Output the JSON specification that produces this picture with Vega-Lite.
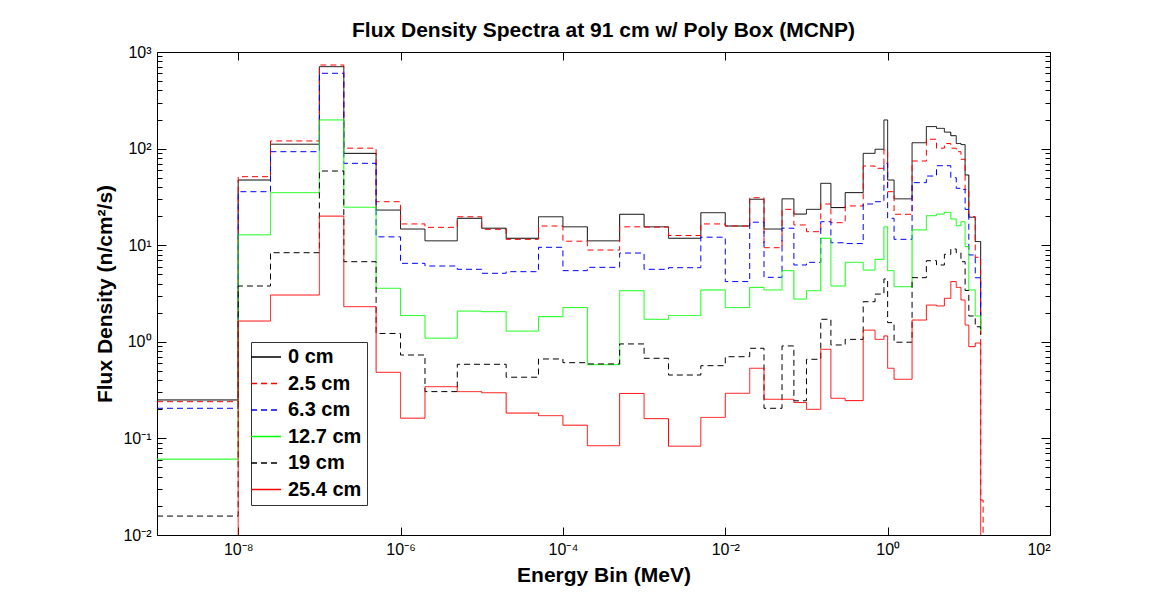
{
  "$schema": "https://vega.github.io/schema/vega-lite/v6.json",
  "width": 893,
  "height": 483,
  "autosize": "none",
  "padding": {"left": 157, "top": 52, "right": 108, "bottom": 64},
  "background": "white",
  "config": {
    "view": {"stroke": "#000", "strokeWidth": 1},
    "font": "Liberation Sans",
    "axis": {"domain": false, "grid": false, "labelFont": "Liberation Sans", "labelFontSize": 16, "labelColor": "#000", "tickColor": "#000", "titleFont": "Liberation Sans", "titleFontSize": 21, "titleFontWeight": "bold", "titleColor": "#000"}
  },
  "title": {"text": "Flux Density Spectra at 91 cm w/ Poly Box (MCNP)", "fontSize": 21, "fontWeight": "bold", "font": "Liberation Sans", "color": "#000", "anchor": "middle", "offset": 3},
  "data": {"values": [
    {"s":"0 cm","e":1e-9,"f":0.25},{"s":"0 cm","e":1e-8,"f":47.3},{"s":"0 cm","e":2.5e-8,"f":111},{"s":"0 cm","e":1e-7,"f":705},{"s":"0 cm","e":2e-7,"f":89.3},{"s":"0 cm","e":5e-7,"f":23.1},{"s":"0 cm","e":1e-6,"f":14.7},{"s":"0 cm","e":2e-6,"f":11.1},{"s":"0 cm","e":5e-6,"f":19},{"s":"0 cm","e":1e-5,"f":15},{"s":"0 cm","e":2e-5,"f":11.8},{"s":"0 cm","e":5e-5,"f":19.7},{"s":"0 cm","e":1e-4,"f":15.5},{"s":"0 cm","e":2e-4,"f":11.1},{"s":"0 cm","e":5e-4,"f":20.9},{"s":"0 cm","e":1e-3,"f":15.5},{"s":"0 cm","e":2e-3,"f":11.8},{"s":"0 cm","e":5e-3,"f":21.7},{"s":"0 cm","e":0.01,"f":15.8},{"s":"0 cm","e":0.02,"f":29.9},{"s":"0 cm","e":0.03,"f":14.7},{"s":"0 cm","e":0.05,"f":30.2},{"s":"0 cm","e":0.07,"f":21},{"s":"0 cm","e":0.1,"f":23.5},{"s":"0 cm","e":0.15,"f":43.7},{"s":"0 cm","e":0.2,"f":24.5},{"s":"0 cm","e":0.3,"f":35},{"s":"0 cm","e":0.5,"f":89.3},{"s":"0 cm","e":0.7,"f":98.4},{"s":"0 cm","e":0.9,"f":198},{"s":"0 cm","e":1,"f":47.3},{"s":"0 cm","e":1.2,"f":30.2},{"s":"0 cm","e":2,"f":115},{"s":"0 cm","e":3,"f":169},{"s":"0 cm","e":4,"f":162},{"s":"0 cm","e":5,"f":148},{"s":"0 cm","e":6,"f":136},{"s":"0 cm","e":7,"f":113},{"s":"0 cm","e":8,"f":110},{"s":"0 cm","e":9,"f":53.3},{"s":"0 cm","e":10,"f":19.5},{"s":"0 cm","e":12,"f":10.9},{"s":"0 cm","e":14,"f":1.2},
    {"s":"2.5 cm","e":1e-9,"f":0.24},{"s":"2.5 cm","e":1e-8,"f":51.2},{"s":"2.5 cm","e":2.5e-8,"f":120},{"s":"2.5 cm","e":1e-7,"f":733},{"s":"2.5 cm","e":2e-7,"f":101},{"s":"2.5 cm","e":5e-7,"f":28.2},{"s":"2.5 cm","e":1e-6,"f":16.6},{"s":"2.5 cm","e":2e-6,"f":15.3},{"s":"2.5 cm","e":5e-6,"f":19.7},{"s":"2.5 cm","e":1e-5,"f":14.6},{"s":"2.5 cm","e":2e-5,"f":11.5},{"s":"2.5 cm","e":5e-5,"f":15.8},{"s":"2.5 cm","e":1e-4,"f":11.0},{"s":"2.5 cm","e":2e-4,"f":8.91},{"s":"2.5 cm","e":5e-4,"f":15.5},{"s":"2.5 cm","e":1e-3,"f":15.4},{"s":"2.5 cm","e":2e-3,"f":12.6},{"s":"2.5 cm","e":5e-3,"f":16.6},{"s":"2.5 cm","e":0.01,"f":15.8},{"s":"2.5 cm","e":0.02,"f":31},{"s":"2.5 cm","e":0.03,"f":9.42},{"s":"2.5 cm","e":0.05,"f":23.5},{"s":"2.5 cm","e":0.07,"f":16.2},{"s":"2.5 cm","e":0.1,"f":13.8},{"s":"2.5 cm","e":0.15,"f":26.7},{"s":"2.5 cm","e":0.2,"f":17.1},{"s":"2.5 cm","e":0.3,"f":25.5},{"s":"2.5 cm","e":0.5,"f":66},{"s":"2.5 cm","e":0.7,"f":62.5},{"s":"2.5 cm","e":0.9,"f":96.8},{"s":"2.5 cm","e":1,"f":35.8},{"s":"2.5 cm","e":1.2,"f":20.9},{"s":"2.5 cm","e":2,"f":74.4},{"s":"2.5 cm","e":3,"f":125},{"s":"2.5 cm","e":4,"f":101},{"s":"2.5 cm","e":5,"f":113},{"s":"2.5 cm","e":6,"f":101},{"s":"2.5 cm","e":7,"f":92.9},{"s":"2.5 cm","e":8,"f":77.5},{"s":"2.5 cm","e":9,"f":37.8},{"s":"2.5 cm","e":10,"f":19.8},{"s":"2.5 cm","e":12,"f":7.5},{"s":"2.5 cm","e":14,"f":0.023},{"s":"2.5 cm","e":15,"f":0.0001},
    {"s":"6.3 cm","e":1e-9,"f":0.205},{"s":"6.3 cm","e":1e-8,"f":35.8},{"s":"6.3 cm","e":2.5e-8,"f":92.9},{"s":"6.3 cm","e":1e-7,"f":602},{"s":"6.3 cm","e":2e-7,"f":70.4},{"s":"6.3 cm","e":5e-7,"f":12.2},{"s":"6.3 cm","e":1e-6,"f":6.49},{"s":"6.3 cm","e":2e-6,"f":6.09},{"s":"6.3 cm","e":5e-6,"f":5.63},{"s":"6.3 cm","e":1e-5,"f":5.12},{"s":"6.3 cm","e":2e-5,"f":5.32},{"s":"6.3 cm","e":5e-5,"f":9.51},{"s":"6.3 cm","e":1e-4,"f":5.45},{"s":"6.3 cm","e":2e-4,"f":5.9},{"s":"6.3 cm","e":5e-4,"f":8.3},{"s":"6.3 cm","e":1e-3,"f":5.63},{"s":"6.3 cm","e":2e-3,"f":5.85},{"s":"6.3 cm","e":5e-3,"f":12.1},{"s":"6.3 cm","e":0.01,"f":4.2},{"s":"6.3 cm","e":0.02,"f":17.3},{"s":"6.3 cm","e":0.03,"f":4.65},{"s":"6.3 cm","e":0.05,"f":15},{"s":"6.3 cm","e":0.07,"f":6.24},{"s":"6.3 cm","e":0.1,"f":6.65},{"s":"6.3 cm","e":0.15,"f":17.5},{"s":"6.3 cm","e":0.2,"f":10.6},{"s":"6.3 cm","e":0.3,"f":10.4},{"s":"6.3 cm","e":0.5,"f":26.7},{"s":"6.3 cm","e":0.7,"f":28.2},{"s":"6.3 cm","e":0.9,"f":70.4},{"s":"6.3 cm","e":1,"f":19},{"s":"6.3 cm","e":1.2,"f":11.5},{"s":"6.3 cm","e":2,"f":44.4},{"s":"6.3 cm","e":3,"f":52},{"s":"6.3 cm","e":4,"f":66.5},{"s":"6.3 cm","e":5,"f":66.5},{"s":"6.3 cm","e":6,"f":50},{"s":"6.3 cm","e":7,"f":38.8},{"s":"6.3 cm","e":8,"f":37.8},{"s":"6.3 cm","e":9,"f":23.5},{"s":"6.3 cm","e":10,"f":7.92},{"s":"6.3 cm","e":12,"f":4.6},{"s":"6.3 cm","e":14,"f":1.85},
    {"s":"12.7 cm","e":1e-9,"f":0.061},{"s":"12.7 cm","e":1e-8,"f":12.8},{"s":"12.7 cm","e":2.5e-8,"f":35},{"s":"12.7 cm","e":1e-7,"f":198},{"s":"12.7 cm","e":2e-7,"f":24.7},{"s":"12.7 cm","e":5e-7,"f":3.58},{"s":"12.7 cm","e":1e-6,"f":1.87},{"s":"12.7 cm","e":2e-6,"f":1.09},{"s":"12.7 cm","e":5e-6,"f":2.08},{"s":"12.7 cm","e":1e-5,"f":2.05},{"s":"12.7 cm","e":2e-5,"f":1.29},{"s":"12.7 cm","e":5e-5,"f":1.82},{"s":"12.7 cm","e":1e-4,"f":2.26},{"s":"12.7 cm","e":2e-4,"f":0.58},{"s":"12.7 cm","e":5e-4,"f":3.38},{"s":"12.7 cm","e":1e-3,"f":1.71},{"s":"12.7 cm","e":2e-3,"f":1.87},{"s":"12.7 cm","e":5e-3,"f":3.44},{"s":"12.7 cm","e":0.01,"f":2.26},{"s":"12.7 cm","e":0.02,"f":3.66},{"s":"12.7 cm","e":0.03,"f":3.44},{"s":"12.7 cm","e":0.05,"f":5.45},{"s":"12.7 cm","e":0.07,"f":2.77},{"s":"12.7 cm","e":0.1,"f":3.38},{"s":"12.7 cm","e":0.15,"f":11.8},{"s":"12.7 cm","e":0.2,"f":3.78},{"s":"12.7 cm","e":0.3,"f":6.65},{"s":"12.7 cm","e":0.5,"f":5.53},{"s":"12.7 cm","e":0.7,"f":7.14},{"s":"12.7 cm","e":0.9,"f":15.5},{"s":"12.7 cm","e":1,"f":5.45},{"s":"12.7 cm","e":1.2,"f":3.72},{"s":"12.7 cm","e":2,"f":14.4},{"s":"12.7 cm","e":3,"f":20.2},{"s":"12.7 cm","e":4,"f":21},{"s":"12.7 cm","e":5,"f":21.9},{"s":"12.7 cm","e":6,"f":18.7},{"s":"12.7 cm","e":7,"f":15.9},{"s":"12.7 cm","e":8,"f":17.5},{"s":"12.7 cm","e":9,"f":9.66},{"s":"12.7 cm","e":10,"f":3.44},{"s":"12.7 cm","e":12,"f":1.85},{"s":"12.7 cm","e":14,"f":1.3},
    {"s":"19 cm","e":1e-9,"f":0.0157},{"s":"19 cm","e":1e-8,"f":3.78},{"s":"19 cm","e":2.5e-8,"f":8.36},{"s":"19 cm","e":1e-7,"f":58.6},{"s":"19 cm","e":2e-7,"f":6.75},{"s":"19 cm","e":5e-7,"f":1.22},{"s":"19 cm","e":1e-6,"f":0.73},{"s":"19 cm","e":2e-6,"f":0.305},{"s":"19 cm","e":5e-6,"f":0.585},{"s":"19 cm","e":1e-5,"f":0.585},{"s":"19 cm","e":2e-5,"f":0.43},{"s":"19 cm","e":5e-5,"f":0.664},{"s":"19 cm","e":1e-4,"f":0.608},{"s":"19 cm","e":2e-4,"f":0.59},{"s":"19 cm","e":5e-4,"f":0.95},{"s":"19 cm","e":1e-3,"f":0.675},{"s":"19 cm","e":2e-3,"f":0.453},{"s":"19 cm","e":5e-3,"f":0.566},{"s":"19 cm","e":0.01,"f":0.701},{"s":"19 cm","e":0.02,"f":0.857},{"s":"19 cm","e":0.03,"f":0.205},{"s":"19 cm","e":0.05,"f":0.906},{"s":"19 cm","e":0.07,"f":0.245},{"s":"19 cm","e":0.1,"f":0.659},{"s":"19 cm","e":0.15,"f":1.71},{"s":"19 cm","e":0.2,"f":0.927},{"s":"19 cm","e":0.3,"f":1.06},{"s":"19 cm","e":0.5,"f":2.6},{"s":"19 cm","e":0.7,"f":3.12},{"s":"19 cm","e":0.9,"f":4.47},{"s":"19 cm","e":1,"f":1.58},{"s":"19 cm","e":1.2,"f":0.99},{"s":"19 cm","e":2,"f":4.61},{"s":"19 cm","e":3,"f":6.91},{"s":"19 cm","e":4,"f":6.24},{"s":"19 cm","e":5,"f":8.05},{"s":"19 cm","e":6,"f":9.14},{"s":"19 cm","e":7,"f":8.36},{"s":"19 cm","e":8,"f":6.75},{"s":"19 cm","e":9,"f":3.4},{"s":"19 cm","e":10,"f":1.85},{"s":"19 cm","e":12,"f":1.43},{"s":"19 cm","e":14,"f":1.2},
    {"s":"25.4 cm","e":1e-9,"f":0.0001},{"s":"25.4 cm","e":1e-8,"f":1.64},{"s":"25.4 cm","e":2.5e-8,"f":3.05},{"s":"25.4 cm","e":1e-7,"f":20},{"s":"25.4 cm","e":2e-7,"f":2.31},{"s":"25.4 cm","e":5e-7,"f":0.483},{"s":"25.4 cm","e":1e-6,"f":0.162},{"s":"25.4 cm","e":2e-6,"f":0.343},{"s":"25.4 cm","e":5e-6,"f":0.305},{"s":"25.4 cm","e":1e-5,"f":0.297},{"s":"25.4 cm","e":2e-5,"f":0.183},{"s":"25.4 cm","e":5e-5,"f":0.172},{"s":"25.4 cm","e":1e-4,"f":0.137},{"s":"25.4 cm","e":2e-4,"f":0.084},{"s":"25.4 cm","e":5e-4,"f":0.292},{"s":"25.4 cm","e":1e-3,"f":0.16},{"s":"25.4 cm","e":2e-3,"f":0.083},{"s":"25.4 cm","e":5e-3,"f":0.165},{"s":"25.4 cm","e":0.01,"f":0.293},{"s":"25.4 cm","e":0.02,"f":0.532},{"s":"25.4 cm","e":0.03,"f":0.254},{"s":"25.4 cm","e":0.05,"f":0.254},{"s":"25.4 cm","e":0.07,"f":0.235},{"s":"25.4 cm","e":0.1,"f":0.2},{"s":"25.4 cm","e":0.15,"f":0.836},{"s":"25.4 cm","e":0.2,"f":0.26},{"s":"25.4 cm","e":0.3,"f":0.246},{"s":"25.4 cm","e":0.5,"f":1.32},{"s":"25.4 cm","e":0.7,"f":1.06},{"s":"25.4 cm","e":0.9,"f":1.15},{"s":"25.4 cm","e":1,"f":0.532},{"s":"25.4 cm","e":1.2,"f":0.409},{"s":"25.4 cm","e":2,"f":1.68},{"s":"25.4 cm","e":3,"f":2.4},{"s":"25.4 cm","e":4,"f":2.35},{"s":"25.4 cm","e":5,"f":2.82},{"s":"25.4 cm","e":6,"f":4.2},{"s":"25.4 cm","e":7,"f":3.66},{"s":"25.4 cm","e":8,"f":2.71},{"s":"25.4 cm","e":9,"f":1.49},{"s":"25.4 cm","e":10,"f":0.89},{"s":"25.4 cm","e":12,"f":0.97},{"s":"25.4 cm","e":14,"f":0.0001}
  ]},
  "layer": [
    {
      "mark": {"type": "line", "interpolate": "step-after", "clip": true, "strokeWidth": 1},
      "encoding": {
        "x": {"field": "e", "type": "quantitative", "scale": {"type": "log", "domain": [1e-9, 100], "nice": false},
          "axis": {"orient": "bottom", "values": [1e-8, 1e-6, 1e-4, 1e-2, 1, 100], "tickSize": -8, "labelPadding": 14, "labelBaseline": "top",
            "labelExpr": "'10' + (round(log(datum.value)/LN10) < 0 ? '⁻' : '') + ['⁰','¹','²','³','⁴','⁵','⁶','⁷','⁸','⁹'][abs(round(log(datum.value)/LN10))]",
            "title": "Energy Bin (MeV)", "titlePadding": 7}},
        "y": {"field": "f", "type": "quantitative", "scale": {"type": "log", "domain": [0.01, 1000], "nice": false},
          "axis": {"orient": "left",
            "values": [0.01,0.02,0.03,0.04,0.05,0.06,0.07,0.08,0.09,0.1,0.2,0.3,0.4,0.5,0.6,0.7,0.8,0.9,1,2,3,4,5,6,7,8,9,10,20,30,40,50,60,70,80,90,100,200,300,400,500,600,700,800,900,1000],
            "tickSize": {"condition": {"test": "abs(log(datum.value)/LN10 - round(log(datum.value)/LN10)) < 0.001", "value": -9}, "value": -5},
            "labelPadding": 15,
            "labelExpr": "abs(log(datum.value)/LN10 - round(log(datum.value)/LN10)) < 0.001 ? '10' + (round(log(datum.value)/LN10) < 0 ? '⁻' : '') + ['⁰','¹','²','³','⁴','⁵','⁶','⁷','⁸','⁹'][abs(round(log(datum.value)/LN10))] : ''",
            "title": "Flux Density (n/cm²/s)", "titlePadding": 7}},
        "color": {"field": "s", "type": "nominal",
          "scale": {"domain": ["0 cm", "2.5 cm", "6.3 cm", "12.7 cm", "19 cm", "25.4 cm"], "range": ["#000000", "#ff0000", "#0000ff", "#00ff00", "#000000", "#ff0000"]},
          "legend": {"title": null, "orient": "none", "legendX": 94, "legendY": 290, "symbolType": "M-3,0H3", "symbolSize": 100, "symbolStrokeWidth": 1.5, "labelFont": "Liberation Sans", "labelFontSize": 20, "labelFontWeight": "bold", "labelColor": "#000", "labelOffset": 12, "rowPadding": 6.5, "padding": 5, "strokeColor": "#333", "fillColor": "#fff",
            "encode": {"symbols": {"update": {
              "stroke": {"signal": "datum.value === '2.5 cm' || datum.value === '25.4 cm' ? '#ff0000' : datum.value === '6.3 cm' ? '#0000ff' : datum.value === '12.7 cm' ? '#00ff00' : '#000000'"},
              "strokeDash": {"signal": "datum.value === '2.5 cm' || datum.value === '6.3 cm' || datum.value === '19 cm' ? [6, 4] : [1, 0]"}}}}}},
        "strokeDash": {"field": "s", "type": "nominal",
          "scale": {"domain": ["0 cm", "2.5 cm", "6.3 cm", "12.7 cm", "19 cm", "25.4 cm"], "range": [[1, 0], [6, 4], [6, 4], [1, 0], [6, 4], [1, 0]]},
          "legend": null}
      }
    },
    {
      "mark": {"type": "line", "opacity": 0},
      "encoding": {
        "x": {"field": "e", "type": "quantitative", "scale": {"type": "log", "domain": [1e-9, 100], "nice": false},
          "axis": {"orient": "top", "values": [1e-8, 1e-6, 1e-4, 1e-2, 1, 100], "tickSize": -8, "labels": false, "title": null}},
        "y": {"field": "f", "type": "quantitative", "scale": {"type": "log", "domain": [0.01, 1000], "nice": false},
          "axis": {"orient": "right",
            "values": [0.01,0.02,0.03,0.04,0.05,0.06,0.07,0.08,0.09,0.1,0.2,0.3,0.4,0.5,0.6,0.7,0.8,0.9,1,2,3,4,5,6,7,8,9,10,20,30,40,50,60,70,80,90,100,200,300,400,500,600,700,800,900,1000],
            "tickSize": {"condition": {"test": "abs(log(datum.value)/LN10 - round(log(datum.value)/LN10)) < 0.001", "value": -9}, "value": -5},
            "labels": false, "title": null}}
      }
    }
  ],
  "resolve": {"axis": {"x": "independent", "y": "independent"}}
}
